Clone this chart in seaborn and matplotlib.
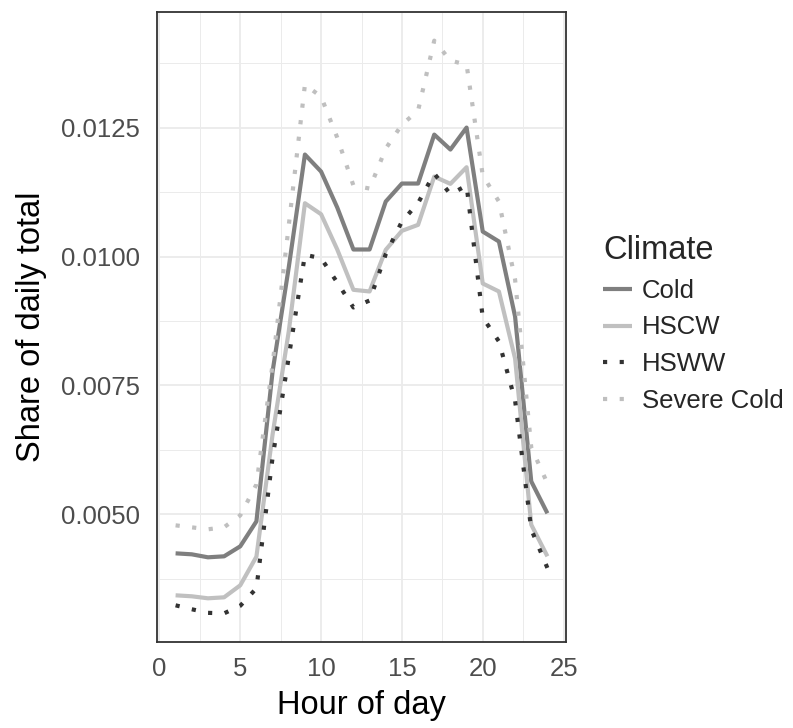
import matplotlib
matplotlib.use("Agg")
import matplotlib.pyplot as plt
import seaborn as sns
import pandas as pd
from matplotlib.ticker import FixedLocator, FuncFormatter

hours = [1, 2, 3, 4, 5, 6, 7, 8, 9, 10, 11, 12, 13, 14, 15, 16, 17, 18, 19, 20, 21, 22, 23, 24]

cold = [0.004244, 0.004225, 0.004167, 0.004186, 0.00438, 0.004864, 0.007771, 0.00979,
        0.011977, 0.011647, 0.01095, 0.010136, 0.010136, 0.011066, 0.011415, 0.011415,
        0.012364, 0.012074, 0.0125, 0.010484, 0.010291, 0.008837, 0.00564, 0.00502]

hscw = [0.00343, 0.003411, 0.003372, 0.003391, 0.003624, 0.00418, 0.00655, 0.008547,
        0.011033, 0.01082, 0.010136, 0.009354, 0.009322, 0.01013, 0.010498, 0.010614,
        0.01155, 0.011409, 0.011731, 0.009477, 0.009322, 0.008023, 0.0048, 0.004186]

hsww = [0.003236, 0.00316, 0.00309, 0.00308, 0.003227, 0.003566, 0.006105, 0.008048,
        0.010033, 0.009967, 0.009496, 0.009012, 0.009147, 0.010045, 0.010678, 0.011037,
        0.011609, 0.011207, 0.011376, 0.008818, 0.008353, 0.00721, 0.004709, 0.00396]

severe_cold = [0.004787, 0.004748, 0.00471, 0.00475, 0.00498, 0.00558, 0.007907, 0.0106,
               0.013333, 0.0131, 0.012306, 0.011376, 0.011318, 0.012093, 0.012558, 0.012829,
               0.014186, 0.013798, 0.013721, 0.01157, 0.011066, 0.009554, 0.006298, 0.005601]

climates = ["Cold", "HSCW", "HSWW", "Severe Cold"]
x_ticks = [0, 5, 10, 15, 20, 25]
y_ticks = [0.0050, 0.0075, 0.0100, 0.0125]

series = {"Cold": cold, "HSCW": hscw, "HSWW": hsww, "Severe Cold": severe_cold}
df = pd.DataFrame(
    [(h, c, v) for c in climates for h, v in zip(hours, series[c])],
    columns=["hour", "Climate", "share"],
)

sns.set_style("white")
plt.rcParams["font.family"] = ["Liberation Sans", "DejaVu Sans"]

palette = {"Cold": "#7f7f7f", "HSCW": "#c0c0c0", "HSWW": "#333333", "Severe Cold": "#bfbfbf"}
dashes = {"Cold": "", "HSCW": "", "HSWW": (1, 3), "Severe Cold": (1, 3)}

fig = plt.figure(figsize=(7.93, 7.28), dpi=100)
ax = fig.add_axes([157 / 793, 1 - 642 / 728, (566 - 157) / 793, (642 - 12) / 728])

lw = 3.0
sns.lineplot(data=df, x="hour", y="share", hue="Climate", style="Climate",
             hue_order=climates, style_order=climates, palette=palette,
             dashes=dashes, linewidth=lw, errorbar=None, legend=False, ax=ax)
for ln in ax.lines:
    ln.set_dash_capstyle("butt")
    ln.set_solid_capstyle("butt")
    ln.set_solid_joinstyle("round")

ax.margins(x=0.05, y=0.05)
ax.set_xlim(-0.15, 25.15)
ax.xaxis.set_major_locator(FixedLocator(x_ticks))
ax.xaxis.set_minor_locator(FixedLocator([2.5, 7.5, 12.5, 17.5, 22.5]))
ax.yaxis.set_major_locator(FixedLocator(y_ticks))
ax.yaxis.set_minor_locator(FixedLocator([0.00375, 0.00625, 0.00875, 0.01125, 0.01375]))
ax.yaxis.set_major_formatter(FuncFormatter(lambda v, p: f"{v:.4f}"))

ax.grid(which="major", color="#ebebeb", linewidth=1.3)
ax.grid(which="minor", color="#ebebeb", linewidth=0.7)
ax.set_axisbelow(True)

for s in ax.spines.values():
    s.set_color("#333333")
    s.set_linewidth(1.3)

ax.tick_params(which="major", length=5.5, width=1.1, color="#333333",
               labelsize=18.5, labelcolor="#4d4d4d")
ax.tick_params(axis="y", which="major", pad=6.5)
ax.tick_params(axis="x", which="major", pad=5)
ax.tick_params(which="minor", length=0)

ax.set_xlabel("Hour of day", fontsize=23.5, color="black", labelpad=7)
ax.set_ylabel("Share of daily total", fontsize=23.5, color="black", labelpad=10)

leg = ax.legend(handles=list(ax.lines), labels=climates, title="Climate",
                loc="center left", bbox_to_anchor=(593 / 793, 1 - 324 / 728),
                bbox_transform=fig.transFigure, frameon=False,
                fontsize=18.5, title_fontsize=23.5, handlelength=1.1,
                handletextpad=0.4, labelspacing=0.49, borderaxespad=0)
leg._legend_box.align = "left"

fig.savefig("out.png", dpi=100)
